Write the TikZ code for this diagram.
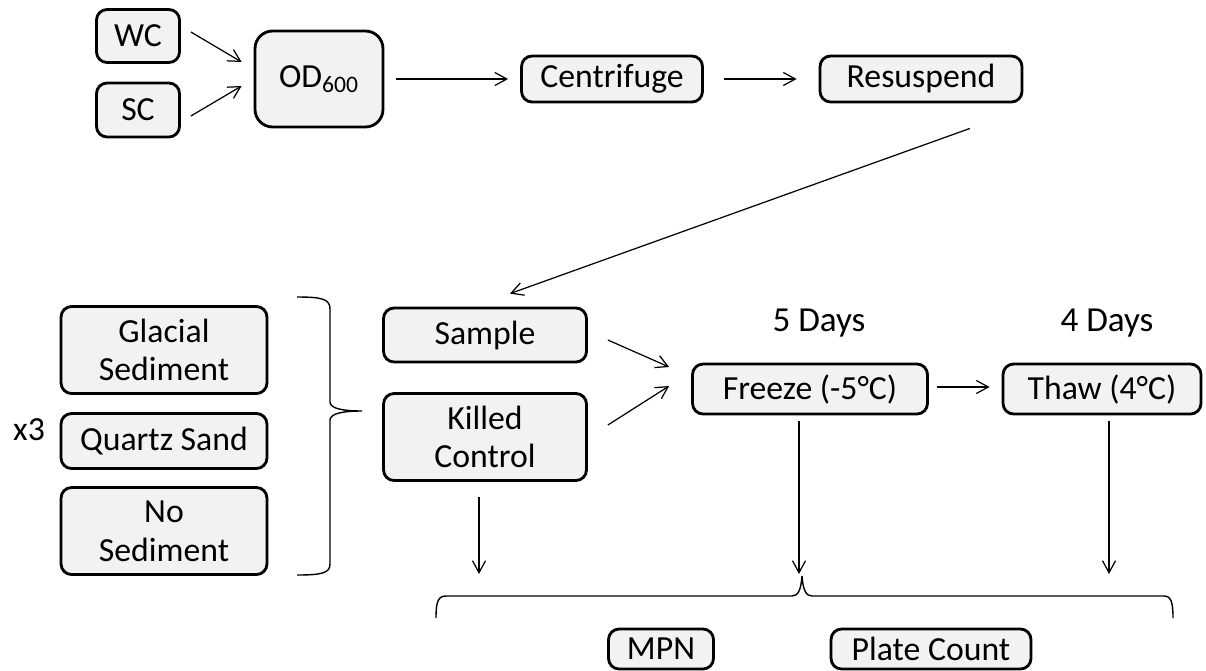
\documentclass[tikz,border=0pt]{standalone}
\usepackage{fontspec}
\setmainfont{Carlito}
\usetikzlibrary{arrows.meta,positioning,calc}
\definecolor{BoxFill}{HTML}{F2F2F2}
\tikzset{
  stepbox/.style={rounded corners=6pt, draw=black, fill=BoxFill, line width=1.6pt, align=center, inner sep=0pt, font=\fontsize{19.2}{22}\selectfont},
  flowarrow/.style={-{Straight Barb[length=2.4mm,width=2.6mm]}, line width=0.7pt},
  bracebar/.style={line width=0.8pt},
  daylabel/.style={font=\fontsize{20}{23}\selectfont},
}

\begin{document}
\begin{tikzpicture}[x=0.02cm,y=-0.02cm]
\path[use as bounding box] (0,0) rectangle (1206,670);

% top row
\node[stepbox,minimum width=1.66cm,minimum height=1.06cm] (wc) at (138,36) {WC};
\node[stepbox,minimum width=1.66cm,minimum height=1.08cm] (sc) at (138,110) {SC};
\node[stepbox,rounded corners=10pt,minimum width=2.56cm,minimum height=1.92cm] (od) at (319,79) {OD\textsubscript{600}};
\node[stepbox,minimum width=3.62cm,minimum height=0.92cm] (cent) at (612,79) {Centrifuge};
\node[stepbox,minimum width=4.04cm,minimum height=0.92cm] (resus) at (921,79) {Resuspend};
\draw[flowarrow] ($(wc.east)+(10,-4)$) -- ($(od.west)+(-12,-17)$);
\draw[flowarrow] ($(sc.east)+(10,6)$) -- ($(od.west)+(-12,7)$);
\draw[flowarrow] ($(od.east)+(12,0)$) -- ($(cent.west)+(-12,0)$);
\draw[flowarrow] ($(cent.east)+(20,0)$) -- ($(resus.west)+(-22,0)$);

% sediments
\node[stepbox,minimum width=4.12cm,minimum height=1.74cm] (glacial) at (164,350) {Glacial\\Sediment};
\node[stepbox,minimum width=4.12cm,minimum height=1.1cm] (quartz) at (164,441) {Quartz Sand};
\node[stepbox,minimum width=4.12cm,minimum height=1.74cm] (nosed) at (164,531) {No\\Sediment};
\node[font=\fontsize{19.2}{22}\selectfont] (xthree) at (29,430) {x3};
\draw[bracebar] (297,297) .. controls (322,297) and (330,299) .. (330,309) -- (330,402)
  .. controls (330,409) and (345,411) .. (362,411)
  .. controls (345,411) and (330,413) .. (330,420) -- (330,564)
  .. controls (330,573) and (322,575) .. (297,575);

% treatments
\node[stepbox,minimum width=4.06cm,minimum height=1.08cm] (sample) at (485,335) {Sample};
\node[stepbox,minimum width=4.06cm,minimum height=1.74cm] (killed) at (485,437) {Killed\\Control};
\node[stepbox,minimum width=4.7cm,minimum height=1.0cm] (freeze) at (810,389) {Freeze (-5°C)};
\node[stepbox,minimum width=3.96cm,minimum height=1.0cm] (thaw) at (1102,389) {Thaw (4°C)};
\node[daylabel] (fiveday) at (819,323) {5 Days};
\node[daylabel] (fourday) at (1107,323) {4 Days};
\draw[flowarrow] ($(resus.south)+(49,25)$) -- ($(sample.north)+(25,-13)$);
\draw[flowarrow] ($(sample.east)+(20,5)$) -- ($(freeze.west)+(-22,-22)$);
\draw[flowarrow] ($(killed.east)+(20,-12)$) -- ($(freeze.west)+(-22,-3)$);
\draw[flowarrow] ($(freeze.east)+(8,-2)$) -- ($(thaw.west)+(-12,-2)$);

% counting
\coordinate (kcout) at (479,574);
\coordinate (frout) at (799,574);
\coordinate (thout) at (1109,574);
\draw[flowarrow] ($(killed.south)+(-6,15)$) -- (kcout);
\draw[flowarrow] ($(freeze.south)+(-11,6)$) -- (frout);
\draw[flowarrow] ($(thaw.south)+(7,6)$) -- (thout);
\draw[bracebar] (436,618) .. controls (436,602) and (438,596) .. (446,596) -- (792,596)
  .. controls (798,596) and (801,590) .. (802,576)
  .. controls (803,590) and (806,596) .. (812,596) -- (1164,596)
  .. controls (1171,596) and (1173,602) .. (1173,618);
\node[stepbox,minimum width=2.1cm,minimum height=0.8cm] (mpn) at (661,649) {MPN};
\node[stepbox,minimum width=4.0cm,minimum height=0.8cm] (plate) at (931,649) {Plate Count};
\end{tikzpicture}
\end{document}
